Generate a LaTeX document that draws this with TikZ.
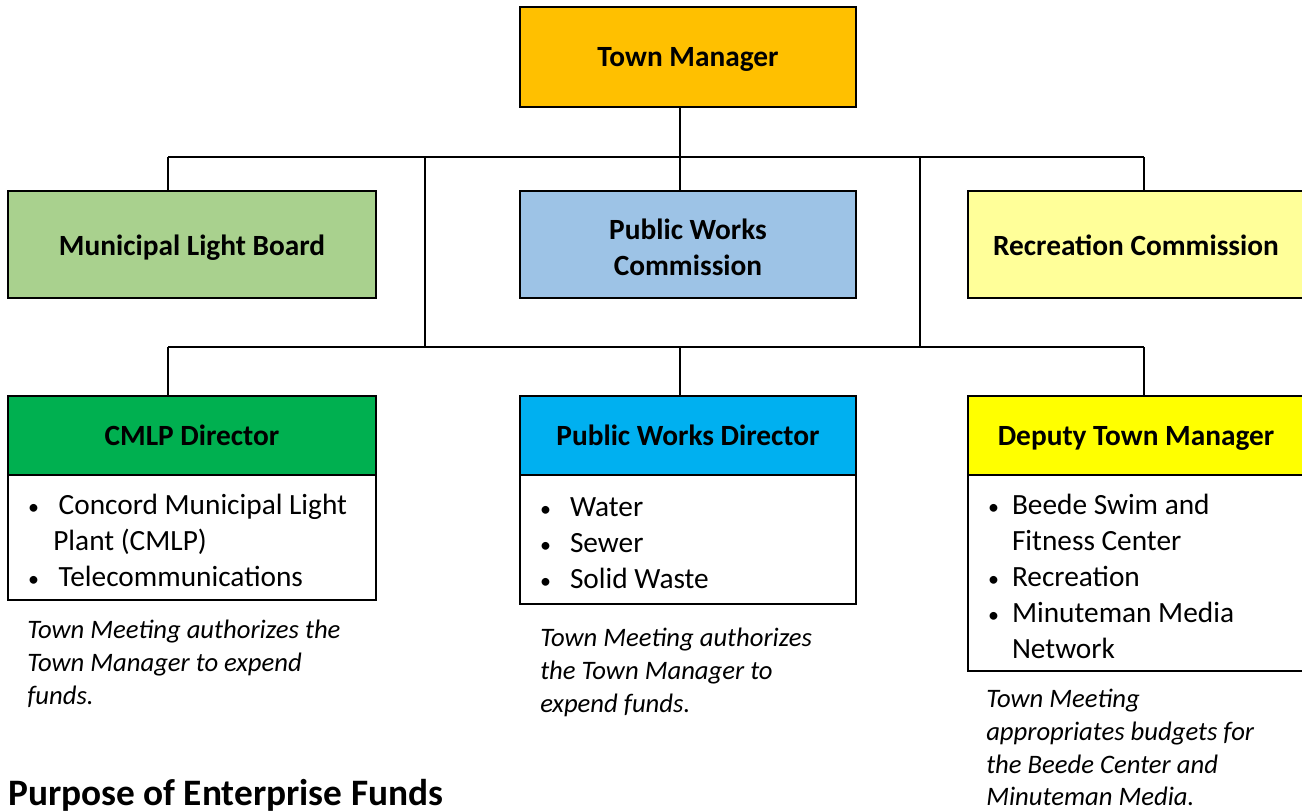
\documentclass[tikz,border=0pt]{standalone}
\usepackage{fontspec}
\setmainfont{Carlito}
\usetikzlibrary{positioning}
\definecolor{managercol}{HTML}{FFC000}
\definecolor{lightcol}{HTML}{A9D18E}
\definecolor{workscol}{HTML}{9DC3E6}
\definecolor{reccol}{HTML}{FFFF99}
\definecolor{cmlpcol}{HTML}{00B050}
\definecolor{pwdcol}{HTML}{00B0F0}
\definecolor{deputycol}{HTML}{FFFF00}
\newcommand{\listdot}[2]{\makebox[#1][l]{\scalebox{0.75}{\textbullet}}#2}
\newcommand{\toproom}{\rule{0pt}{20pt}}

\begin{document}
\begin{tikzpicture}[
			x=0.75pt,
			y=-0.75pt,
			box/.style={
				draw=black,
				rectangle,
				line width=1.5pt,
				outer sep=0pt,
				minimum width=252pt,
				align=center,
				font=\bfseries\fontsize{22}{27}\selectfont
			},
			oneline/.style={
				text height=19.5pt,
				text depth=5pt
			},
			head/.style={
				box,
				oneline,
				minimum height=59.25pt
			},
			body/.style={
				box,
				fill=white,
				inner xsep=15pt,
				text width=222pt,
				align=flush left,
				font=\fontsize{22}{27}\selectfont
			},
			note/.style={
				anchor=north west,
				inner sep=0pt,
				align=flush left,
				font=\itshape\fontsize{20}{24.5}\selectfont
			},
			link/.style={
				draw=black,
				line width=1.5pt
			}
			]
			\useasboundingbox (0,0) rectangle (1302,810);
			
			% Bus lines
			\coordinate (upL) at (168,157);
			\coordinate (upM) at (680,157);
			\coordinate (upR) at (1144,157);
			\coordinate (upA) at (425,157);
			\coordinate (upB) at (920,157);
			\coordinate (loL) at (168,347);
			\coordinate (loM) at (680,347);
			\coordinate (loR) at (1144,347);
			\coordinate (loA) at (425,347);
			\coordinate (loB) at (920,347);
			
			% Boxes
			\node[box, oneline, fill=managercol, minimum height=75pt] (tm) at (688,57) {Town Manager};
			
			\node[box, oneline, text height=21pt, fill=lightcol, minimum width=276pt, minimum height=80.25pt] (mlb) at (192,244.5) {Municipal Light Board};
			\node[box, fill=workscol, minimum height=80.25pt] (pwc) at (688,244.5) {\toproom Public Works\\Commission};
			\node[box, oneline, text height=21pt, fill=reccol, minimum height=80.25pt] (rec) at (1136,244.5) {Recreation Commission};
			
			\node[head, fill=cmlpcol, minimum width=276pt] (cmlp) at (192,435.5) {CMLP Director};
			\node[head, fill=pwdcol] (pwd) at (688,435.5) {Public Works Director};
			\node[head, fill=deputycol] (dtm) at (1136,435.5) {Deputy Town Manager};
			
			\node[body, minimum width=276pt, text width=246pt, minimum height=93.75pt] (cmlplist) [below=0pt of cmlp]
			{\toproom\listdot{23pt}{Concord Municipal Light}\\\hspace*{19pt}Plant (CMLP)\\\listdot{23pt}{Telecommunications}};
			\node[body, minimum height=96.75pt] (pwdlist) [below=0pt of pwd]
			{\toproom\listdot{22.5pt}{Water}\\\listdot{22.5pt}{Sewer}\\\listdot{22.5pt}{Solid Waste}};
			\node[body, minimum height=147pt] (dtmlist) [below=0pt of dtm]
			{\toproom\listdot{18pt}{Beede Swim and}\\\hspace*{18pt}Fitness Center\\\listdot{18pt}{Recreation}\\\listdot{18pt}{Minuteman Media}\\\hspace*{18pt}Network};
			
			% Notes
			\node[note] (cmlpnote) at (27,620) {Town Meeting authorizes the\\Town Manager to expend\\funds.};
			\node[note] (pwdnote) at (540,628) {Town Meeting authorizes\\the Town Manager to\\expend funds.};
			\node[note] (dtmnote) at (986,689) {Town Meeting\\appropriates budgets for\\the Beede Center and\\Minuteman Media.};
			
			\node[anchor=base west, inner sep=0pt, font=\bfseries\fontsize{28}{33}\selectfont] (purpose) at (8,805) {Purpose of Enterprise Funds};
			
			% Connectors
			\draw[link] (tm.south -| upM) -- (upM);
			\draw[link] (upL) -- (upR);
			\draw[link] (upL) -- (upL |- mlb.north);
			\draw[link] (upM) -- (upM |- pwc.north);
			\draw[link] (upR) -- (upR |- rec.north);
			\draw[link] (upA) -- (loA);
			\draw[link] (upB) -- (loB);
			\draw[link] (loL) -- (loR);
			\draw[link] (loL) -- (loL |- cmlp.north);
			\draw[link] (loM) -- (loM |- pwd.north);
			\draw[link] (loR) -- (loR |- dtm.north);
		\end{tikzpicture}
\end{document}
